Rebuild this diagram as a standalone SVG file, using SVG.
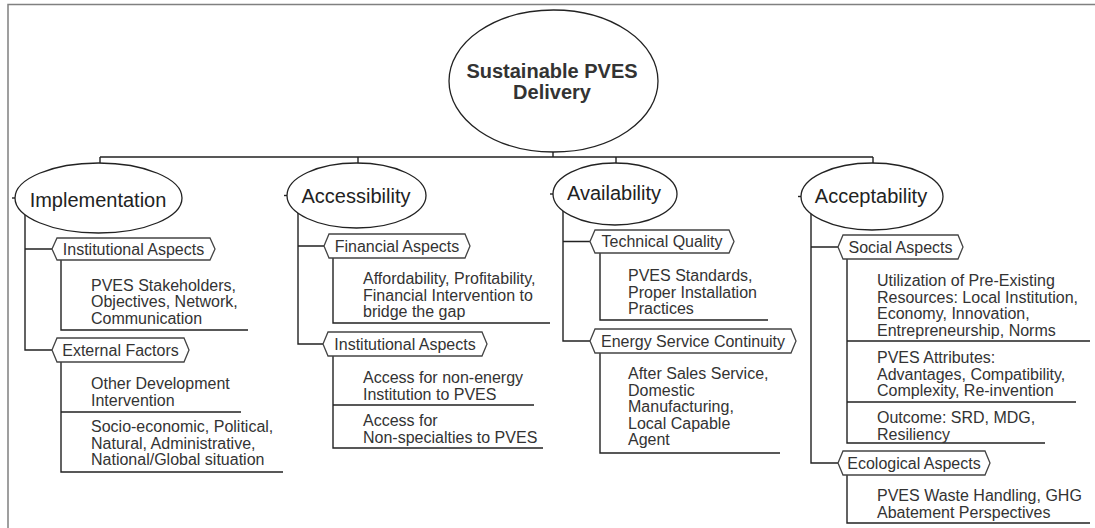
<svg xmlns="http://www.w3.org/2000/svg" width="1095" height="528" viewBox="0 0 1095 528">
<style>
  .frame{fill:none;stroke:#808080;stroke-width:1.5}
  .ln{fill:none;stroke:#222;stroke-width:1.4}
  .ell{fill:#fff;stroke:#222;stroke-width:1.3}
  .hex{fill:#fff;stroke:#444;stroke-width:1.3}
  .title{font-family:"Liberation Sans",Arial,sans-serif;font-size:20px;font-weight:bold;fill:#333;text-anchor:middle}
  .lbl{font-family:"Liberation Sans",Arial,sans-serif;font-size:20px;fill:#222;text-anchor:middle}
  .hx{font-family:"Liberation Sans",Arial,sans-serif;font-size:16px;fill:#333;text-anchor:middle}
  .tx{font-family:"Liberation Sans",Arial,sans-serif;font-size:16px;fill:#333}
</style>
<rect width="1095" height="528" fill="#fff"/>
<path class="frame" d="M8,528 V4.5 H1095"/>

<g id="connectors">
  <path class="ln" d="M100,157 H873 M553,152 V157 M100,157 V163 M358,157 V163 M616,157 V163 M873,157 V163"/>
  <path class="ln" d="M25,215 V350 H52 M25,249 H52"/>
  <path class="ln" d="M298,213 V344 H323 M298,246 H324"/>
  <path class="ln" d="M563,211 V341 H590 M563,241.5 H590"/>
  <path class="ln" d="M811,214 V463 H838 M811,247 H838"/>
  <path class="ln" d="M61,260 V330 H248"/>
  <path class="ln" d="M61,362 V472 H283 M61,412 H241"/>
  <path class="ln" d="M333,258 V323 H550"/>
  <path class="ln" d="M333,356 V448 H543 M333,405 H534"/>
  <path class="ln" d="M600,253 V320 H768"/>
  <path class="ln" d="M600,353 V453 H780"/>
  <path class="ln" d="M847,259 V443 H1045 M847,341 H1090 M847,402 H1076"/>
  <path class="ln" d="M847,475 V523 H1090"/>
</g>

<g id="root">
  <ellipse class="ell" cx="553.5" cy="81" rx="104.5" ry="71"/>
  <text class="title" x="552" y="78">Sustainable PVES</text>
  <text class="title" x="552" y="99">Delivery</text>
</g>

<g id="implementation">
  <ellipse class="ell" cx="98.5" cy="198" rx="83.5" ry="35"/>
  <path class="ln" d="M12,198 H15"/>
  <text class="lbl" x="98" y="207">Implementation</text>
</g>
<g id="accessibility">
  <ellipse class="ell" cx="356.5" cy="195.5" rx="69.5" ry="32.5"/>
  <path class="ln" d="M284,195.5 H287"/>
  <text class="lbl" x="356" y="203">Accessibility</text>
</g>
<g id="availability">
  <ellipse class="ell" cx="615" cy="194" rx="62" ry="31"/>
  <path class="ln" d="M550,194 H553"/>
  <text class="lbl" x="614" y="200">Availability</text>
</g>
<g id="acceptability">
  <ellipse class="ell" cx="872" cy="196.5" rx="71" ry="33.5"/>
  <path class="ln" d="M798,196.5 H801"/>
  <text class="lbl" x="871" y="203">Acceptability</text>
</g>

<g id="impl-institutional">
  <polygon class="hex" points="52,249 57,238 210,238 215,249 210,260 57,260"/>
  <text class="hx" x="133.5" y="254.5">Institutional Aspects</text>
</g>
<g id="impl-institutional-items">
  <text class="tx" x="91" y="290.5">PVES Stakeholders,</text>
  <text class="tx" x="91" y="307">Objectives, Network,</text>
  <text class="tx" x="91" y="323.5">Communication</text>
</g>
<g id="impl-external">
  <polygon class="hex" points="52,350 57,338 184,338 189,350 184,362 57,362"/>
  <text class="hx" x="120.5" y="355.5">External Factors</text>
</g>
<g id="impl-external-items">
  <text class="tx" x="91" y="389">Other Development</text>
  <text class="tx" x="91" y="405.5">Intervention</text>
  <text class="tx" x="91" y="432">Socio-economic, Political,</text>
  <text class="tx" x="91" y="448.5">Natural, Administrative,</text>
  <text class="tx" x="91" y="465">National/Global situation</text>
</g>

<g id="acc-financial">
  <polygon class="hex" points="324,246 329,234 465,234 470,246 465,258 329,258"/>
  <text class="hx" x="397" y="251.5">Financial Aspects</text>
</g>
<g id="acc-financial-items">
  <text class="tx" x="363" y="284">Affordability, Profitability,</text>
  <text class="tx" x="363" y="300.5">Financial Intervention to</text>
  <text class="tx" x="363" y="317">bridge the gap</text>
</g>
<g id="acc-institutional">
  <polygon class="hex" points="323,344 328,332 482,332 487,344 482,356 328,356"/>
  <text class="hx" x="405" y="349.5">Institutional Aspects</text>
</g>
<g id="acc-institutional-items">
  <text class="tx" x="363" y="383">Access for non-energy</text>
  <text class="tx" x="363" y="399.5">Institution to PVES</text>
  <text class="tx" x="363" y="426">Access for</text>
  <text class="tx" x="363" y="442.5">Non-specialties to PVES</text>
</g>

<g id="av-technical">
  <polygon class="hex" points="590,241.5 595,230 729,230 734,241.5 729,253 595,253"/>
  <text class="hx" x="662" y="247">Technical Quality</text>
</g>
<g id="av-technical-items">
  <text class="tx" x="628" y="281">PVES Standards,</text>
  <text class="tx" x="628" y="297.5">Proper Installation</text>
  <text class="tx" x="628" y="314">Practices</text>
</g>
<g id="av-energy">
  <polygon class="hex" points="590,341 595,329 791,329 796,341 791,353 595,353"/>
  <text class="hx" x="693" y="346.5">Energy Service Continuity</text>
</g>
<g id="av-energy-items">
  <text class="tx" x="628" y="379">After Sales Service,</text>
  <text class="tx" x="628" y="395.5">Domestic</text>
  <text class="tx" x="628" y="412">Manufacturing,</text>
  <text class="tx" x="628" y="428.5">Local Capable</text>
  <text class="tx" x="628" y="445">Agent</text>
</g>

<g id="ac-social">
  <polygon class="hex" points="838,247 843,235 958,235 963,247 958,259 843,259"/>
  <text class="hx" x="900.5" y="252.5">Social Aspects</text>
</g>
<g id="ac-social-items">
  <text class="tx" x="877" y="286">Utilization of Pre-Existing</text>
  <text class="tx" x="877" y="302.5">Resources: Local Institution,</text>
  <text class="tx" x="877" y="319">Economy, Innovation,</text>
  <text class="tx" x="877" y="335.5">Entrepreneurship, Norms</text>
  <text class="tx" x="877" y="363">PVES Attributes:</text>
  <text class="tx" x="877" y="379.5">Advantages, Compatibility,</text>
  <text class="tx" x="877" y="396">Complexity, Re-invention</text>
  <text class="tx" x="877" y="423">Outcome: SRD, MDG,</text>
  <text class="tx" x="877" y="439.5">Resiliency</text>
</g>
<g id="ac-ecological">
  <polygon class="hex" points="838,463 843,451 985,451 990,463 985,475 843,475"/>
  <text class="hx" x="914" y="468.5">Ecological Aspects</text>
</g>
<g id="ac-ecological-items">
  <text class="tx" x="877" y="501">PVES Waste Handling, GHG</text>
  <text class="tx" x="877" y="517.5">Abatement Perspectives</text>
</g>
</svg>
